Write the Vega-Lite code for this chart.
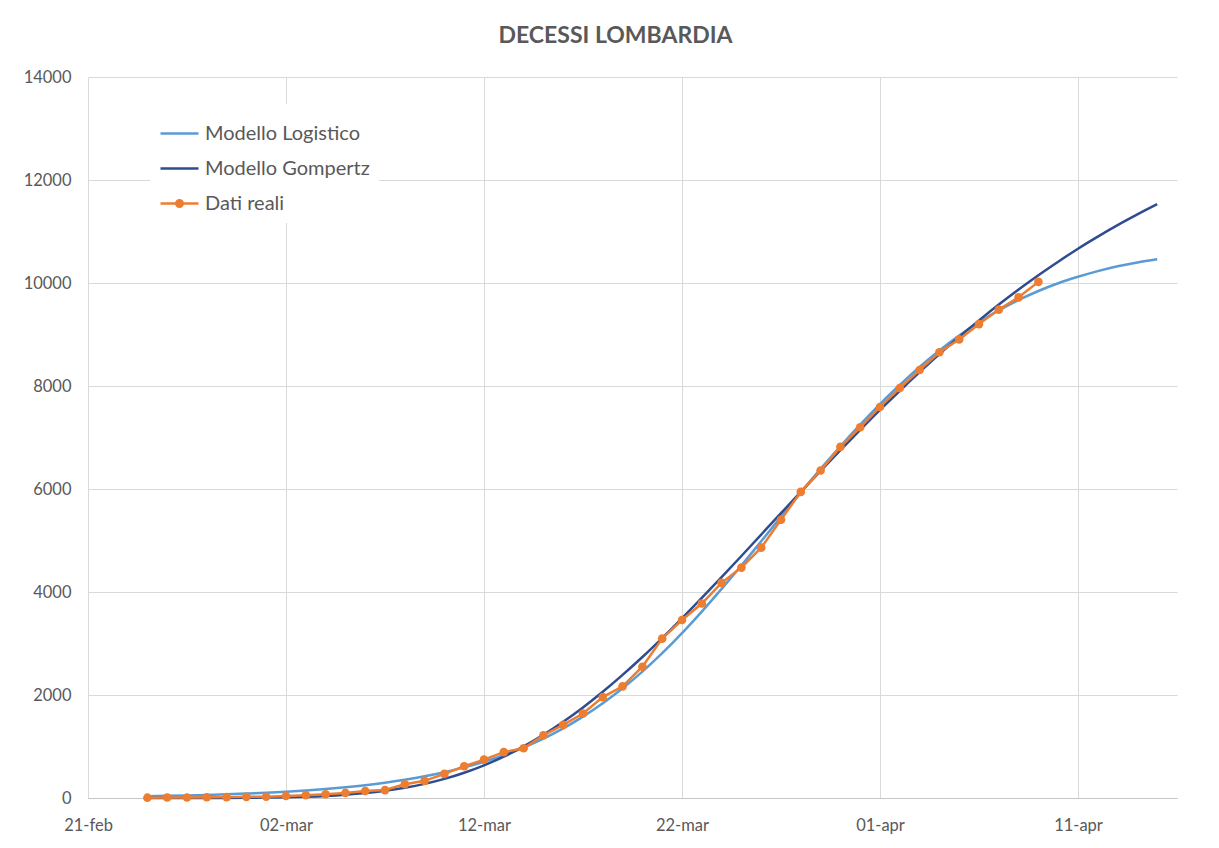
{
  "$schema": "https://vega.github.io/schema/vega-lite/v6.json",
  "width": 1089,
  "height": 721,
  "autosize": {"type": "none"},
  "padding": {"left": 88, "top": 77, "right": 42, "bottom": 50},
  "background": "white",
  "title": {"text": "DECESSI LOMBARDIA", "fontSize": 23, "fontWeight": "bold", "color": "#595959", "font": "Lato", "offset": 21, "anchor": "middle", "frame": "group", "dx": -17},
  "data": {"values": [
    {"date":"2020-02-24","series":"Modello Logistico","deaths":35},{"date":"2020-02-25","series":"Modello Logistico","deaths":42},{"date":"2020-02-26","series":"Modello Logistico","deaths":50},{"date":"2020-02-27","series":"Modello Logistico","deaths":60},{"date":"2020-02-28","series":"Modello Logistico","deaths":72},{"date":"2020-02-29","series":"Modello Logistico","deaths":86},
    {"date":"2020-03-01","series":"Modello Logistico","deaths":103},{"date":"2020-03-02","series":"Modello Logistico","deaths":123},{"date":"2020-03-03","series":"Modello Logistico","deaths":147},{"date":"2020-03-04","series":"Modello Logistico","deaths":175},{"date":"2020-03-05","series":"Modello Logistico","deaths":209},{"date":"2020-03-06","series":"Modello Logistico","deaths":249},{"date":"2020-03-07","series":"Modello Logistico","deaths":297},{"date":"2020-03-08","series":"Modello Logistico","deaths":355},{"date":"2020-03-09","series":"Modello Logistico","deaths":422},{"date":"2020-03-10","series":"Modello Logistico","deaths":501},{"date":"2020-03-11","series":"Modello Logistico","deaths":594},{"date":"2020-03-12","series":"Modello Logistico","deaths":703},{"date":"2020-03-13","series":"Modello Logistico","deaths":831},{"date":"2020-03-14","series":"Modello Logistico","deaths":981},{"date":"2020-03-15","series":"Modello Logistico","deaths":1153},{"date":"2020-03-16","series":"Modello Logistico","deaths":1352},{"date":"2020-03-17","series":"Modello Logistico","deaths":1580},{"date":"2020-03-18","series":"Modello Logistico","deaths":1839},{"date":"2020-03-19","series":"Modello Logistico","deaths":2130},{"date":"2020-03-20","series":"Modello Logistico","deaths":2454},{"date":"2020-03-21","series":"Modello Logistico","deaths":2812},{"date":"2020-03-22","series":"Modello Logistico","deaths":3202},{"date":"2020-03-23","series":"Modello Logistico","deaths":3620},{"date":"2020-03-24","series":"Modello Logistico","deaths":4060},{"date":"2020-03-25","series":"Modello Logistico","deaths":4515},{"date":"2020-03-26","series":"Modello Logistico","deaths":4985},{"date":"2020-03-27","series":"Modello Logistico","deaths":5460},{"date":"2020-03-28","series":"Modello Logistico","deaths":5930},{"date":"2020-03-29","series":"Modello Logistico","deaths":6390},{"date":"2020-03-30","series":"Modello Logistico","deaths":6830},{"date":"2020-03-31","series":"Modello Logistico","deaths":7250},
    {"date":"2020-04-01","series":"Modello Logistico","deaths":7650},{"date":"2020-04-02","series":"Modello Logistico","deaths":8020},{"date":"2020-04-03","series":"Modello Logistico","deaths":8370},{"date":"2020-04-04","series":"Modello Logistico","deaths":8690},{"date":"2020-04-05","series":"Modello Logistico","deaths":8980},{"date":"2020-04-06","series":"Modello Logistico","deaths":9240},{"date":"2020-04-07","series":"Modello Logistico","deaths":9470},{"date":"2020-04-08","series":"Modello Logistico","deaths":9670},{"date":"2020-04-09","series":"Modello Logistico","deaths":9845},{"date":"2020-04-10","series":"Modello Logistico","deaths":9995},{"date":"2020-04-11","series":"Modello Logistico","deaths":10120},{"date":"2020-04-12","series":"Modello Logistico","deaths":10230},{"date":"2020-04-13","series":"Modello Logistico","deaths":10325},{"date":"2020-04-14","series":"Modello Logistico","deaths":10400},{"date":"2020-04-15","series":"Modello Logistico","deaths":10460},

    {"date":"2020-02-24","series":"Modello Gompertz","deaths":0},{"date":"2020-02-25","series":"Modello Gompertz","deaths":0},{"date":"2020-02-26","series":"Modello Gompertz","deaths":1},{"date":"2020-02-27","series":"Modello Gompertz","deaths":1},{"date":"2020-02-28","series":"Modello Gompertz","deaths":2},{"date":"2020-02-29","series":"Modello Gompertz","deaths":4},
    {"date":"2020-03-01","series":"Modello Gompertz","deaths":8},{"date":"2020-03-02","series":"Modello Gompertz","deaths":15},{"date":"2020-03-03","series":"Modello Gompertz","deaths":25},{"date":"2020-03-04","series":"Modello Gompertz","deaths":40},{"date":"2020-03-05","series":"Modello Gompertz","deaths":63},{"date":"2020-03-06","series":"Modello Gompertz","deaths":95},{"date":"2020-03-07","series":"Modello Gompertz","deaths":139},{"date":"2020-03-08","series":"Modello Gompertz","deaths":198},{"date":"2020-03-09","series":"Modello Gompertz","deaths":274},{"date":"2020-03-10","series":"Modello Gompertz","deaths":371},{"date":"2020-03-11","series":"Modello Gompertz","deaths":491},{"date":"2020-03-12","series":"Modello Gompertz","deaths":635},{"date":"2020-03-13","series":"Modello Gompertz","deaths":805},{"date":"2020-03-14","series":"Modello Gompertz","deaths":1003},{"date":"2020-03-15","series":"Modello Gompertz","deaths":1228},{"date":"2020-03-16","series":"Modello Gompertz","deaths":1480},{"date":"2020-03-17","series":"Modello Gompertz","deaths":1759},{"date":"2020-03-18","series":"Modello Gompertz","deaths":2063},{"date":"2020-03-19","series":"Modello Gompertz","deaths":2390},{"date":"2020-03-20","series":"Modello Gompertz","deaths":2738},{"date":"2020-03-21","series":"Modello Gompertz","deaths":3106},{"date":"2020-03-22","series":"Modello Gompertz","deaths":3489},{"date":"2020-03-23","series":"Modello Gompertz","deaths":3885},{"date":"2020-03-24","series":"Modello Gompertz","deaths":4289},{"date":"2020-03-25","series":"Modello Gompertz","deaths":4699},{"date":"2020-03-26","series":"Modello Gompertz","deaths":5115},{"date":"2020-03-27","series":"Modello Gompertz","deaths":5530},{"date":"2020-03-28","series":"Modello Gompertz","deaths":5943},{"date":"2020-03-29","series":"Modello Gompertz","deaths":6352},{"date":"2020-03-30","series":"Modello Gompertz","deaths":6753},{"date":"2020-03-31","series":"Modello Gompertz","deaths":7148},
    {"date":"2020-04-01","series":"Modello Gompertz","deaths":7535},{"date":"2020-04-02","series":"Modello Gompertz","deaths":7908},{"date":"2020-04-03","series":"Modello Gompertz","deaths":8269},{"date":"2020-04-04","series":"Modello Gompertz","deaths":8618},{"date":"2020-04-05","series":"Modello Gompertz","deaths":8953},{"date":"2020-04-06","series":"Modello Gompertz","deaths":9274},{"date":"2020-04-07","series":"Modello Gompertz","deaths":9582},{"date":"2020-04-08","series":"Modello Gompertz","deaths":9875},{"date":"2020-04-09","series":"Modello Gompertz","deaths":10152},{"date":"2020-04-10","series":"Modello Gompertz","deaths":10414},{"date":"2020-04-11","series":"Modello Gompertz","deaths":10666},{"date":"2020-04-12","series":"Modello Gompertz","deaths":10901},{"date":"2020-04-13","series":"Modello Gompertz","deaths":11124},{"date":"2020-04-14","series":"Modello Gompertz","deaths":11332},{"date":"2020-04-15","series":"Modello Gompertz","deaths":11530},

    {"date":"2020-02-24","series":"Dati reali","deaths":6},{"date":"2020-02-25","series":"Dati reali","deaths":9},{"date":"2020-02-26","series":"Dati reali","deaths":9},{"date":"2020-02-27","series":"Dati reali","deaths":14},{"date":"2020-02-28","series":"Dati reali","deaths":17},{"date":"2020-02-29","series":"Dati reali","deaths":23},
    {"date":"2020-03-01","series":"Dati reali","deaths":24},{"date":"2020-03-02","series":"Dati reali","deaths":38},{"date":"2020-03-03","series":"Dati reali","deaths":55},{"date":"2020-03-04","series":"Dati reali","deaths":73},{"date":"2020-03-05","series":"Dati reali","deaths":98},{"date":"2020-03-06","series":"Dati reali","deaths":135},{"date":"2020-03-07","series":"Dati reali","deaths":154},{"date":"2020-03-08","series":"Dati reali","deaths":267},{"date":"2020-03-09","series":"Dati reali","deaths":333},{"date":"2020-03-10","series":"Dati reali","deaths":468},{"date":"2020-03-11","series":"Dati reali","deaths":617},{"date":"2020-03-12","series":"Dati reali","deaths":744},{"date":"2020-03-13","series":"Dati reali","deaths":890},{"date":"2020-03-14","series":"Dati reali","deaths":966},{"date":"2020-03-15","series":"Dati reali","deaths":1218},{"date":"2020-03-16","series":"Dati reali","deaths":1420},{"date":"2020-03-17","series":"Dati reali","deaths":1640},{"date":"2020-03-18","series":"Dati reali","deaths":1959},{"date":"2020-03-19","series":"Dati reali","deaths":2168},{"date":"2020-03-20","series":"Dati reali","deaths":2549},{"date":"2020-03-21","series":"Dati reali","deaths":3095},{"date":"2020-03-22","series":"Dati reali","deaths":3456},{"date":"2020-03-23","series":"Dati reali","deaths":3776},{"date":"2020-03-24","series":"Dati reali","deaths":4178},{"date":"2020-03-25","series":"Dati reali","deaths":4474},{"date":"2020-03-26","series":"Dati reali","deaths":4861},{"date":"2020-03-27","series":"Dati reali","deaths":5402},{"date":"2020-03-28","series":"Dati reali","deaths":5944},{"date":"2020-03-29","series":"Dati reali","deaths":6360},{"date":"2020-03-30","series":"Dati reali","deaths":6818},{"date":"2020-03-31","series":"Dati reali","deaths":7199},
    {"date":"2020-04-01","series":"Dati reali","deaths":7593},{"date":"2020-04-02","series":"Dati reali","deaths":7960},{"date":"2020-04-03","series":"Dati reali","deaths":8311},{"date":"2020-04-04","series":"Dati reali","deaths":8656},{"date":"2020-04-05","series":"Dati reali","deaths":8905},{"date":"2020-04-06","series":"Dati reali","deaths":9202},{"date":"2020-04-07","series":"Dati reali","deaths":9484},{"date":"2020-04-08","series":"Dati reali","deaths":9722},{"date":"2020-04-09","series":"Dati reali","deaths":10022}
  ]},
  "encoding": {
    "x": {
      "field": "date", "type": "temporal",
      "scale": {"type": "utc", "domain": [{"year": 2020, "month": 2, "date": 21, "utc": true}, {"year": 2020, "month": 4, "date": 16, "utc": true}]},
      "axis": {
        "title": null,
        "values": [
          {"year": 2020, "month": 2, "date": 21, "utc": true},
          {"year": 2020, "month": 3, "date": 2, "utc": true},
          {"year": 2020, "month": 3, "date": 12, "utc": true},
          {"year": 2020, "month": 3, "date": 22, "utc": true},
          {"year": 2020, "month": 4, "date": 1, "utc": true},
          {"year": 2020, "month": 4, "date": 11, "utc": true}
        ],
        "labelExpr": "utcFormat(datum.value, '%d') + '-' + lower(utcFormat(datum.value, '%b'))",
        "grid": true, "gridColor": "#D9D9D9", "gridWidth": 1,
        "domainColor": "#C6C6C6", "domainWidth": 1.2,
        "ticks": false, "labelPadding": 19, "labelFontSize": 16.5, "labelColor": "#595959", "labelFont": "Lato",
        "labelFlush": false, "labelOverlap": false
      }
    },
    "y": {
      "field": "deaths", "type": "quantitative",
      "scale": {"domain": [0, 14000], "nice": false},
      "axis": {
        "title": null,
        "values": [0, 2000, 4000, 6000, 8000, 10000, 12000, 14000],
        "format": "d",
        "domain": false, "ticks": false, "labelPadding": 17,
        "grid": true, "gridColor": "#D9D9D9", "gridWidth": 1,
        "labelFontSize": 16.5, "labelColor": "#595959", "labelFont": "Lato"
      }
    },
    "color": {
      "field": "series", "type": "nominal",
      "scale": {"domain": ["Modello Logistico", "Modello Gompertz", "Dati reali"], "range": ["#5B9BD5", "#2E4C8F", "#ED7D31"]},
      "legend": {
        "title": null, "orient": "none", "legendX": 62, "legendY": 27,
        "fillColor": "white", "padding": 9, "rowPadding": 4,
        "labelFontSize": 20, "labelColor": "#595959", "labelFont": "Lato", "labelLimit": 400,
        "symbolType": "stroke", "symbolSize": 1444, "symbolStrokeWidth": 2.5,
        "labelOffset": 5,
        "encode": {
          "symbols": {
            "update": {
              "shape": {"signal": "datum.label === 'Dati reali' ? 'M-1,0L1,0M-0.17,0A0.17,0.17,0,1,1,0.17,0A0.17,0.17,0,1,1,-0.17,0Z' : 'M-1,0L1,0'"},
              "fill": {"signal": "datum.label === 'Dati reali' ? '#ED7D31' : 'transparent'"}
            }
          }
        }
      }
    }
  },
  "layer": [
    {"transform": [{"filter": "datum.series !== 'Dati reali'"}], "mark": {"type": "line", "strokeWidth": 2.5, "interpolate": "monotone"}},
    {"transform": [{"filter": "datum.series === 'Dati reali'"}], "mark": {"type": "line", "strokeWidth": 2.5}},
    {"transform": [{"filter": "datum.series === 'Dati reali'"}], "mark": {"type": "point", "filled": true, "size": 75, "opacity": 1, "shape": "circle"}}
  ],
  "config": {"view": {"stroke": null}, "font": "Lato"}
}
